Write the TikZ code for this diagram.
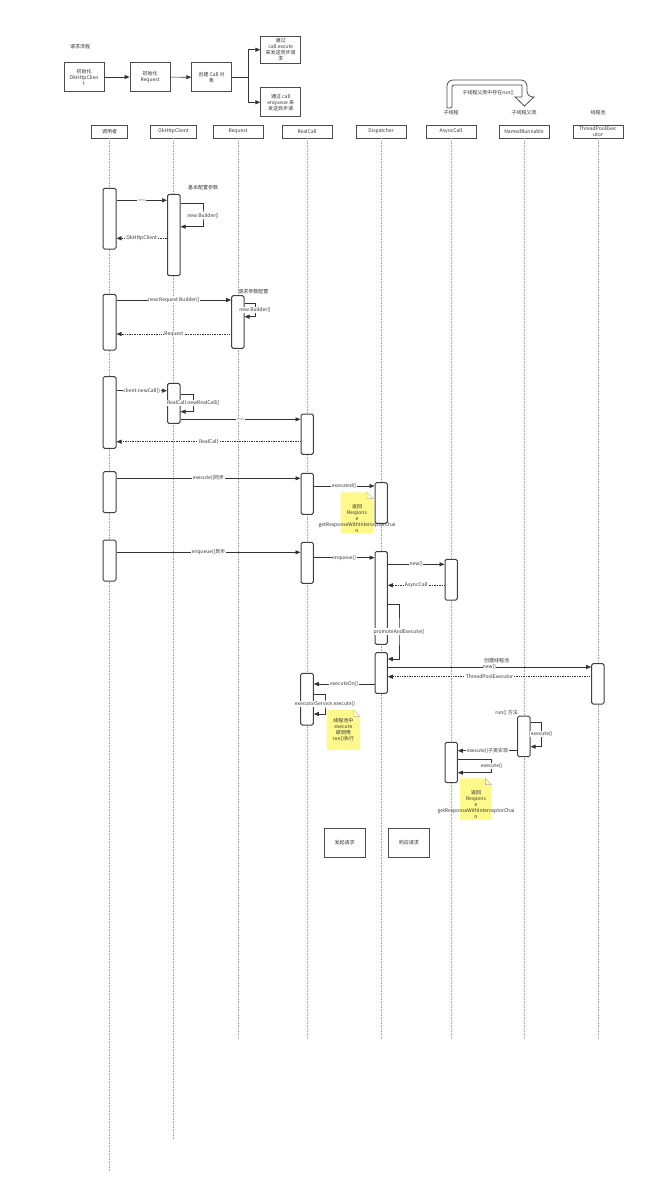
\documentclass[tikz,border=0pt]{standalone}
\usepackage{fontspec}
\setmainfont{Noto Sans CJK SC}
\usetikzlibrary{arrows.meta,fit}

\begin{document}
\begin{tikzpicture}[x=1pt, y=-1pt, font=\fontsize{5}{6}\selectfont, text=black!80,
	box/.style={draw=black!70, line width=0.8pt, align=center, inner sep=0.5pt, minimum width=40pt},
	hdr/.style={draw=black!70, line width=0.8pt, minimum width=50pt, minimum height=13pt, inner sep=0pt, align=center},
	act/.style={draw=black!75, line width=1pt, rounded corners=1.5pt, fill=white, inner sep=0pt},
	life/.style={draw=black!35, densely dotted, line width=0.6pt},
	msg/.style={draw=black!80, line width=0.7pt, -{Triangle[length=5pt,width=4pt]}},
	ret/.style={msg, densely dotted},
	lbl/.style={fill=white, inner sep=0.6pt},
	tiny/.style={lbl, font=\fontsize{3.8}{4}\selectfont, text=black!45},
	notefill/.style={fill=yellow!45},
	fold/.style={draw=black!30, line width=0.4pt, fill=yellow!25}]
	\fill[white] (0,0) rectangle (650,1197);
	\useasboundingbox (0,0) rectangle (650,1197);

	\node (title) at (80,47) {请求流程};
	\node[box, minimum height=29pt] (b1) at (84,77) {初始化\\OkHttpClien\\t};
	\node[box, minimum height=29pt] (b2) at (150,77) {初始化\\Request};
	\node[box, minimum height=29pt] (b3) at (211.7,77.3) {创建 Call 对\\象};
	\node[box, minimum height=27pt] (b4) at (280.7,49.7) {通过\\call.excute\\来发送同步请\\求};
	\node[box, minimum height=29pt] (b5) at (280.7,102.3) {通过 call\\enqueue 来\\发送异步请};
	\draw[msg] (b1) -- (b2);
	\draw[msg] (b2) -- (b3);
	\draw[msg] (b3.east) -- ++(16,0) |- (b4);
	\draw[msg] (b3.east) -- ++(16,0) |- (b5);

	\draw[draw=black!70, line width=0.8pt, fill=white] (447,108) [rounded corners=6pt] -- (447,80) -- (527,80) -- (527,97) [sharp corners] -- (534,97) -- (524.5,106) -- (515,97) -- (522,97) -- (522,85) [rounded corners=2pt] -- (452,85) -- (452,108) [sharp corners] -- cycle;
	\node (runlbl) at (488,93) {子线程父类中存在run()};
	\node (tagAsync) at (451,113) {子线程};
	\node (tagNamed) at (524,113) {子线程父类};
	\node (tagPool) at (598,113) {线程池};

	\node[hdr, minimum width=36pt] (hCaller) at (109.5,131.5) {调用者};
	\node[hdr, minimum width=46pt] (hClient) at (173.5,131.5) {OkHttpClient};
	\node[hdr] (hRequest) at (238,131.5) {Request};
	\node[hdr] (hRealCall) at (307,131.5) {RealCall};
	\node[hdr] (hDispatcher) at (381,131.5) {Dispatcher};
	\node[hdr] (hAsync) at (451,131.5) {AsyncCall};
	\node[hdr] (hNamed) at (524,131.5) {NamedRunnable};
	\node[hdr, font=\fontsize{5}{5.2}\selectfont] (hPool) at (598,131.5) {ThreadPoolExec\\utor};

	\coordinate (eCaller) at (109.5,1172);
	\coordinate (eClient) at (173.5,1139);
	\coordinate (eRequest) at (238,1038);
	\coordinate (eRealCall) at (307,1038);
	\coordinate (eDispatcher) at (381,1038);
	\coordinate (eAsync) at (451,1038);
	\coordinate (eNamed) at (524,1038);
	\coordinate (ePool) at (598,1038);
	\draw[life] (hCaller) -- (eCaller);
	\draw[life] (hClient) -- (eClient);
	\draw[life] (hRequest) -- (eRequest);
	\draw[life] (hRealCall) -- (eRealCall);
	\draw[life] (hDispatcher) -- (eDispatcher);
	\draw[life] (hAsync) -- (eAsync);
	\draw[life] (hNamed) -- (eNamed);
	\draw[life] (hPool) -- (ePool);

	\node[act, fit={(103,188.3) (116,249)}] (cA1) {};
	\node[act, fit={(167.5,194.3) (180,275.7)}] (oA1) {};
	\node (cfg1) at (203,188) {基本配置参数};
	\draw[msg] (cA1.east |- 0,200.3) -- node[tiny] {new} (oA1.west |- 0,200.3);
	\draw[msg] (oA1.east |- 0,203) -| (203,215.5) node[lbl] {new Builder()} |- (oA1.east |- 0,226.7);
	\draw[ret] (oA1.west |- 0,238.3) -- node[lbl] {OkHttpClient} (cA1.east |- 0,238.3);

	\node[act, fit={(103,294.3) (116,350)}] (cA2) {};
	\node[act, fit={(231.7,295.7) (244,348.3)}] (rA1) {};
	\node (cfg2) at (253.3,291.7) {请求参数配置};
	\draw[msg] (cA2.east |- 0,300) -- node[lbl] {new Request Builder()} (rA1.west |- 0,300);
	\draw[msg] (rA1.east |- 0,303.3) -| (255,310) node[lbl] {new Builder()} |- (rA1.east |- 0,316.7);
	\draw[ret] (rA1.west |- 0,334) -- node[lbl] {Request} (cA2.east |- 0,334);

	\node[act, fit={(103,376.7) (116,448.3)}] (cA3) {};
	\node[act, fit={(167.5,383.3) (180,423.3)}] (oA2) {};
	\node[act, fit={(301,414) (313.3,454.3)}] (kA1) {};
	\draw[msg] (cA3.east |- 0,390.7) -- node[lbl] {client.newCall()} (oA2.west |- 0,390.7);
	\draw[msg] (oA2.east |- 0,394) -| (193.3,403) node[lbl] {RealCall.newRealCall()} |- (oA2.east |- 0,411.7);
	\draw[msg] (oA2.east |- 0,419.3) -- node[tiny] {new} (kA1.west |- 0,419.3);
	\draw[ret] (kA1.west |- 0,441.7) -- node[lbl] {RealCall} (cA3.east |- 0,441.7);

	\node[act, fit={(103,471.7) (116,512.7)}] (cA4) {};
	\node[act, fit={(301,473.3) (313.3,514.3)}] (kA2) {};
	\node[act, fit={(375,482.7) (387.3,523.3)}] (dA1) {};
	\draw[msg] (cA4.east |- 0,478.3) -- node[lbl] {execute()同步} (kA2.west |- 0,478.3);
	\draw[msg] (kA2.east |- 0,486) -- node[lbl] {executed()} (dA1.west |- 0,486);
	\fill[notefill] (340.7,492.3) -- (367,492.3) -- (373.3,498.6) -- (373.3,533.3) -- (340.7,533.3) -- cycle;
	\draw[fold] (367,492.3) -- (373.3,498.6) -- (367,498.6) -- cycle;
	\node[align=center, inner sep=0pt] (n1) at (357,518.5) {返回\\Respons\\e\\getResponseWithInterceptorChai\\n};

	\node[act, fit={(103,540) (116,581)}] (cA5) {};
	\node[act, fit={(301,542.3) (313.3,583.3)}] (kA3) {};
	\node[act, fit={(375,551.5) (387.3,644.3)}] (dA2) {};
	\node[act, fit={(445,559.3) (457.3,600)}] (aA1) {};
	\node[act, fit={(375,652.7) (387.3,693.3)}] (dA3) {};
	\node[act, fit={(591.7,663.7) (604,704)}] (pA1) {};
	\node[act, fit={(300.7,673.3) (313.3,725)}] (kA4) {};
	\draw[msg] (cA5.east |- 0,552.3) -- node[lbl] {enqueue()异步} (kA3.west |- 0,552.3);
	\draw[msg] (kA3.east |- 0,557.7) -- node[lbl] {enqueue()} (dA2.west |- 0,557.7);
	\draw[msg] (dA2.east |- 0,564.3) -- node[lbl] {new()} (aA1.west |- 0,564.3);
	\draw[ret] (aA1.west |- 0,585.3) -- node[lbl] {AsyncCall} (dA2.east |- 0,585.3);
	\draw[msg] (dA2.east |- 0,604.3) -| (399,631.7) node[lbl] {promoteAndExecute()} |- (dA3.east |- 0,659);
	\node (mkpool) at (496.7,660.5) {创建线程池};
	\draw[msg] (dA3.east |- 0,667) -- node[lbl, inner sep=0.2pt] {new()} (pA1.west |- 0,667);
	\draw[ret] (pA1.west |- 0,676.7) -- node[lbl] {ThreadPoolExecutor} (dA3.east |- 0,676.7);
	\draw[msg] (dA3.west |- 0,684) -- node[lbl] {executeOn()} (kA4.east |- 0,684);
	\draw[msg] (kA4.east |- 0,694.3) -| (325,704) node[lbl] {executorService.execute()} |- (kA4.east |- 0,714);
	\fill[notefill] (326.7,710) -- (353.7,710) -- (360,716.3) -- (360,750) -- (326.7,750) -- cycle;
	\draw[fold] (353.7,710) -- (360,716.3) -- (353.7,716.3) -- cycle;
	\node[align=center, inner sep=0pt] (n2) at (343.3,730) {线程池中\\execute\\被调用\\run()执行};

	\node (runm) at (506.7,712.7) {run() 方法};
	\node[act, fit={(517.7,716) (530,756.7)}] (nA1) {};
	\node[act, fit={(445,742.3) (457.3,782.7)}] (aA2) {};
	\draw[msg] (nA1.east |- 0,722) -| (541.7,734.3) node[lbl] {execute()} |- (nA1.east |- 0,746.7);
	\draw[msg] (nA1.west |- 0,750.7) -- node[lbl] {execute()子类实现} (aA2.east |- 0,750.7);
	\draw[msg] (aA2.east |- 0,759.3) -| (491.7,766) node[lbl] {execute()} |- (aA2.east |- 0,772.7);
	\fill[notefill] (460,778.3) -- (485.4,778.3) -- (491.7,784.6) -- (491.7,820) -- (460,820) -- cycle;
	\draw[fold] (485.4,778.3) -- (491.7,784.6) -- (485.4,784.6) -- cycle;
	\node[align=center, inner sep=0pt] (n3) at (476,804.5) {返回\\Respons\\e\\getResponseWithInterceptorChai\\n};

	\node[box, minimum width=41pt, minimum height=29pt] (send) at (344.5,842.8) {发起请求};
	\node[box, minimum width=41pt, minimum height=29pt] (resp) at (408.8,842.8) {响应请求};
\end{tikzpicture}
\end{document}
